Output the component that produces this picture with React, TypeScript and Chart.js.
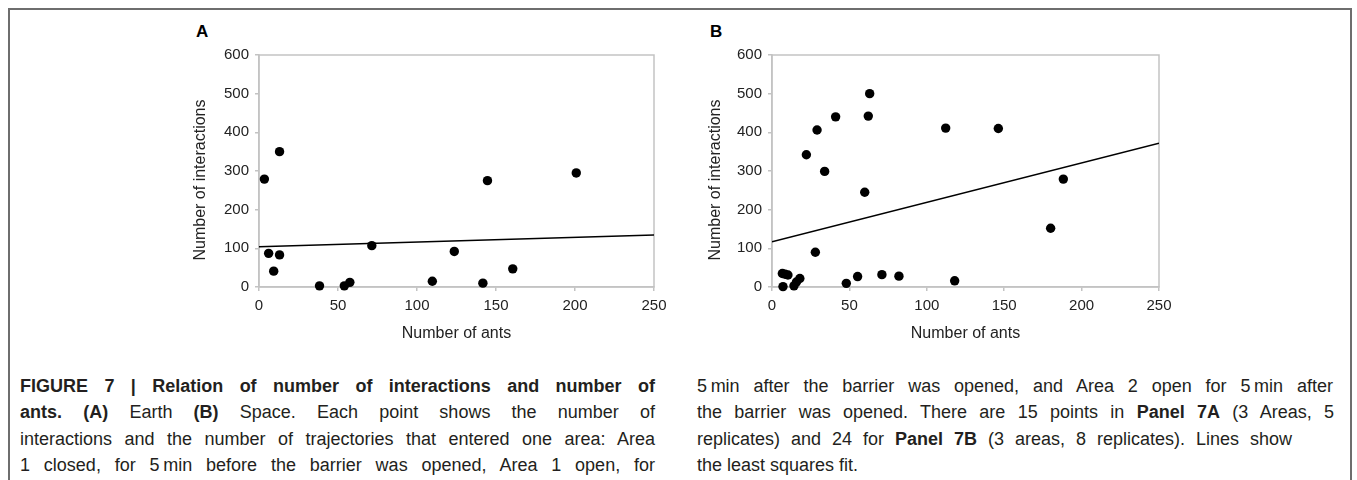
import React, { useEffect, useRef } from "react";
import { Chart, registerables } from "chart.js";
Chart.register(...registerables);

// Panel A (Earth)
const antsA = [3.4, 13, 6.1, 13, 9.3, 38.3, 54, 57.5, 71.4, 109.7, 123.6, 141.7, 144.6, 160.6, 200.8];
const interactionsA = [279, 350, 87, 83, 41, 3, 3, 12, 107, 15, 92, 10, 275, 47, 295];
const fitAntsA = [0, 250];
const fitInteractionsA = [104, 134.5];

// Panel B (Space)
const antsB = [6.7, 8.5, 10.3, 7.1, 14.2, 15.8, 18, 22.2, 29.1, 34, 28, 41.1, 48, 55.3, 63.1, 62.2, 59.9, 71, 82, 112.2, 118, 146.2, 180, 188.2];
const interactionsB = [35, 33, 31, 1, 3, 13, 22, 342, 406, 299, 90, 440, 9.5, 27, 500, 442, 245, 32, 28, 411, 16, 410, 152, 279];
const fitAntsB = [0, 250];
const fitInteractionsB = [117, 372];

const xTicks = [0, 50, 100, 150, 200, 250];
const yTicks = [0, 100, 200, 300, 400, 500, 600];

const FONT = "'Liberation Sans', Arial, Helvetica, sans-serif";
const AXIS_GRAY = "#c3c3c3";
const TEXT = "#222";

const boxPlugin = {
  id: "plotBox",
  beforeDatasetsDraw(chart: any) {
    const { ctx, chartArea } = chart;
    const { left, top, right, bottom } = chartArea;
    ctx.save();
    ctx.strokeStyle = AXIS_GRAY;
    ctx.lineWidth = 1.5;
    ctx.strokeRect(left, top, right - left, bottom - top);
    ctx.restore();
  },
};

function toPoints(xs: number[], ys: number[]) {
  return xs.map((x, i) => ({ x, y: ys[i] }));
}

function Panel(props: {
  xs: number[];
  ys: number[];
  fx: number[];
  fy: number[];
  left: number;
  width: number;
}) {
  const ref = useRef<HTMLCanvasElement | null>(null);
  useEffect(() => {
    if (!ref.current) return;
    const chart = new Chart(ref.current, {
      type: "scatter",
      data: {
        datasets: [
          {
            data: toPoints(props.xs, props.ys),
            backgroundColor: "#000",
            borderColor: "#000",
            pointRadius: 4.7,
            pointHoverRadius: 4.7,
            borderWidth: 0,
            clip: false as any,
          },
          {
            type: "line" as any,
            data: toPoints(props.fx, props.fy),
            borderColor: "#000",
            borderWidth: 1.5,
            pointRadius: 0,
            fill: false,
            showLine: true,
          } as any,
        ],
      },
      options: {
        animation: false,
        responsive: false,
        maintainAspectRatio: false,
        layout: { padding: { left: 0, top: 35, right: 26, bottom: 0 } },
        plugins: { legend: { display: false }, tooltip: { enabled: false } },
        scales: {
          x: {
            type: "linear",
            min: 0,
            max: 250,
            afterBuildTicks(scale: any) {
              scale.ticks = xTicks.map((v) => ({ value: v }));
            },
            afterFit(scale: any) {
              scale.height = 63;
            },
            ticks: {
              font: { family: FONT, size: 15 },
              color: TEXT,
              padding: 6,
              maxRotation: 0,
            },
            grid: {
              display: true,
              drawOnChartArea: false,
              drawTicks: true,
              tickLength: 4,
              color: AXIS_GRAY,
              lineWidth: 1.5,
            },
            border: { display: true, color: AXIS_GRAY, width: 1.5 },
            title: {
              display: true,
              text: "Number of ants",
              font: { family: FONT, size: 16 },
              color: TEXT,
              padding: { top: 0, bottom: 7 },
            },
          },
          y: {
            type: "linear",
            min: 0,
            max: 600,
            afterBuildTicks(scale: any) {
              scale.ticks = yTicks.map((v) => ({ value: v }));
            },
            afterFit(scale: any) {
              scale.width = 89;
            },
            ticks: {
              font: { family: FONT, size: 15 },
              color: TEXT,
              padding: 6,
            },
            grid: {
              display: true,
              drawOnChartArea: false,
              drawTicks: true,
              tickLength: 4,
              color: AXIS_GRAY,
              lineWidth: 1.5,
            },
            border: { display: true, color: AXIS_GRAY, width: 1.5 },
            title: { display: false },
          },
        },
      },
      plugins: [boxPlugin],
    });
    return () => chart.destroy();
  }, []);
  return (
    <canvas
      ref={ref}
      width={props.width}
      height={330}
      style={{ position: "absolute", left: props.left, top: 20, width: props.width, height: 330 }}
    />
  );
}

function YTitle(props: { cx: number; cy: number; text: string }) {
  return (
    <div
      style={{
        position: "absolute",
        left: props.cx - 110,
        top: props.cy - 10,
        width: 220,
        height: 20,
        lineHeight: "20px",
        textAlign: "center",
        fontFamily: FONT,
        fontSize: 16,
        color: TEXT,
        transform: "rotate(-90deg)",
        transformOrigin: "50% 50%",
        whiteSpace: "nowrap",
      }}
    >
      {props.text}
    </div>
  );
}

const CAP_FONT = "'Liberation Sans Narrow', 'Liberation Sans', Arial, sans-serif";

function CapLine(props: { left: number; right: number; center: number; justify?: boolean; children: any }) {
  return (
    <div
      style={{
        position: "absolute",
        left: props.left,
        top: props.center - 12,
        width: props.right - props.left,
        height: 24,
        lineHeight: "24px",
        fontFamily: CAP_FONT,
        fontSize: 18,
        color: "#231f20",
        textAlign: props.justify === false ? "left" : "justify",
        textAlignLast: props.justify === false ? "left" : "justify",
        whiteSpace: "normal",
      } as any}
    >
      {props.children}
    </div>
  );
}

export default function App() {
  const L0 = 20, L1 = 655, R0 = 697;
  const ys = [386, 412, 439, 465];
  return (
    <div style={{ position: "absolute", left: 0, top: 0, width: 1357, height: 480, overflow: "hidden", background: "#fff" }}>
      <div
        style={{
          position: "absolute",
          left: 8,
          top: 8,
          width: 1340,
          height: 520,
          border: "2px solid #6e6e6e",
        }}
      />
      <div style={{ position: "absolute", left: 196, top: 22, fontFamily: FONT, fontWeight: "bold", fontSize: 17, color: "#000" }}>A</div>
      <div style={{ position: "absolute", left: 710, top: 22, fontFamily: FONT, fontWeight: "bold", fontSize: 17, color: "#000" }}>B</div>
      <Panel xs={antsA} ys={interactionsA} fx={fitAntsA} fy={fitInteractionsA} left={170} width={510} />
      <Panel xs={antsB} ys={interactionsB} fx={fitAntsB} fy={fitInteractionsB} left={683} width={502} />
      <YTitle cx={200} cy={180} text="Number of interactions" />
      <YTitle cx={715} cy={180} text="Number of interactions" />

      <CapLine left={L0} right={L1} center={ys[0]}>
        <b>FIGURE 7 | Relation of number of interactions and number of</b>
      </CapLine>
      <CapLine left={L0} right={L1} center={ys[1]}>
        <b>ants.</b> <b>(A)</b> Earth <b>(B)</b> Space. Each point shows the number of
      </CapLine>
      <CapLine left={L0} right={L1} center={ys[2]}>
        interactions and the number of trajectories that entered one area: Area
      </CapLine>
      <CapLine left={L0} right={L1} center={ys[3]}>
        1 closed, for 5{"\u2009"}min before the barrier was opened, Area 1 open, for
      </CapLine>

      <CapLine left={R0} right={1333} center={ys[0]}>
        5{"\u2009"}min after the barrier was opened, and Area 2 open for 5{"\u2009"}min after
      </CapLine>
      <CapLine left={R0} right={1334} center={ys[1]}>
        the barrier was opened. There are 15 points in <b>Panel 7A</b> (3 Areas, 5
      </CapLine>
      <CapLine left={R0} right={1292} center={ys[2]}>
        replicates) and 24 for <b>Panel 7B</b> (3 areas, 8 replicates). Lines show
      </CapLine>
      <CapLine left={R0} right={1333} center={ys[3]} justify={false}>
        the least squares fit.
      </CapLine>
    </div>
  );
}
